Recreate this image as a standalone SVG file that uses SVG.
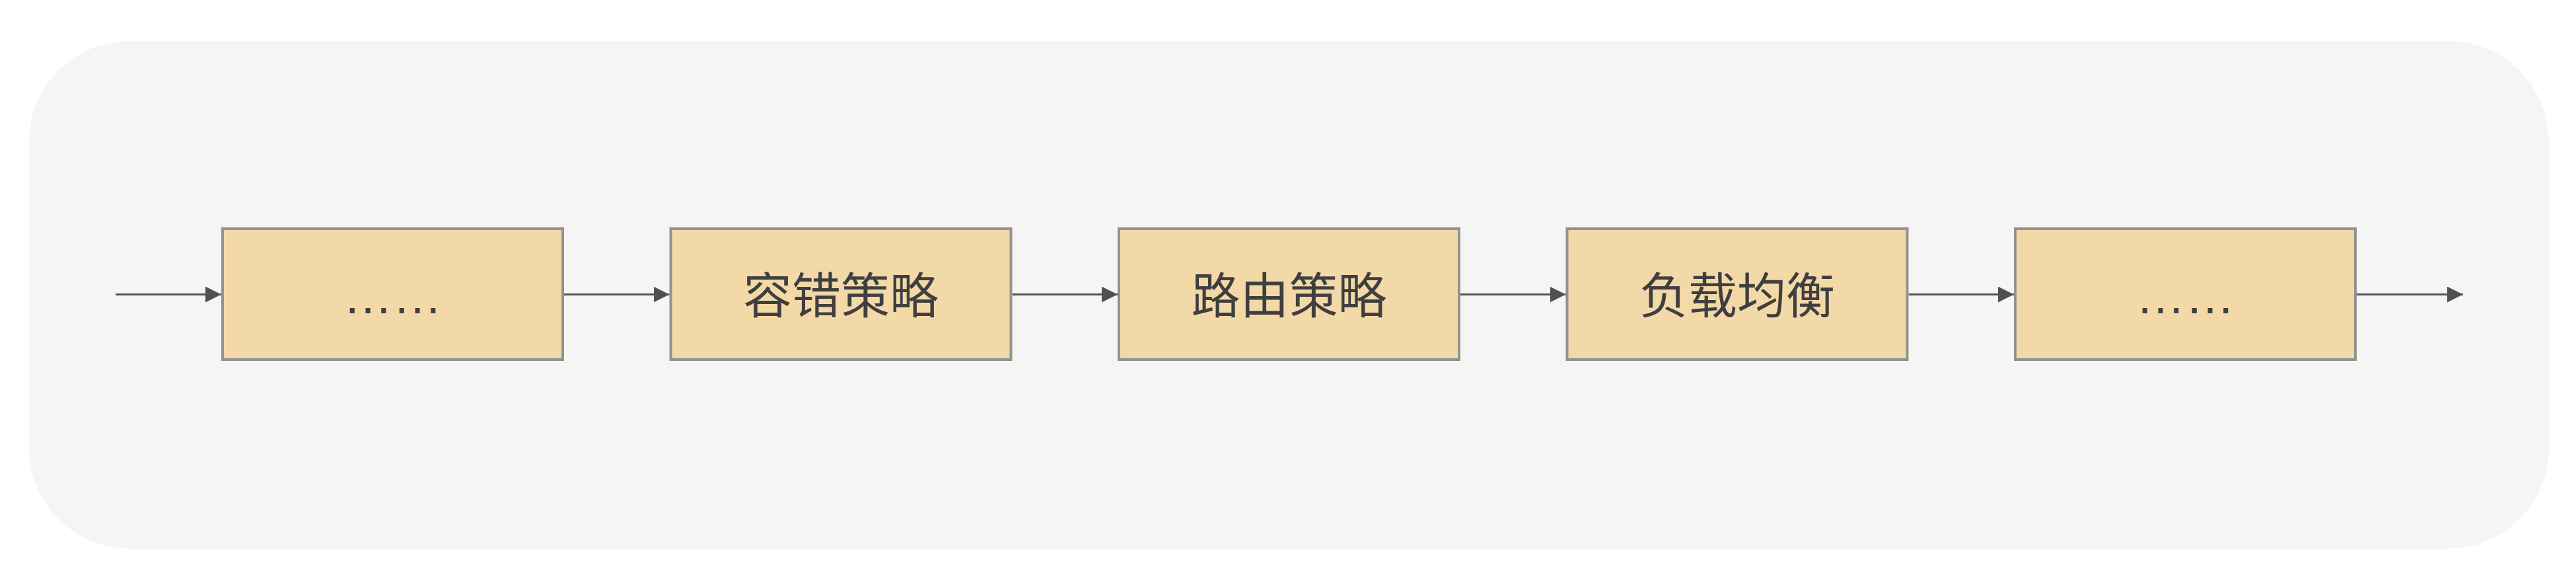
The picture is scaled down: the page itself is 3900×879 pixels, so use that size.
<svg xmlns="http://www.w3.org/2000/svg" width="3900" height="879" viewBox="0 0 3900 879">
  <defs>
    <style>
      .bg { fill: #f5f5f3; }
      .box { fill: #f3d9a8; stroke: #929292; stroke-width: 4; }
      .lbl { font-family: "Noto Sans CJK SC", "Noto Sans", sans-serif; font-size: 74px; fill: #3f3f3f; text-anchor: middle; }
      .dots { font-family: "Liberation Sans", Arial, sans-serif; font-size: 75px; fill: #3f3f3f; text-anchor: middle; }
      .conn { stroke: #505050; stroke-width: 3; fill: none; }
    </style>
    <marker id="arrow" markerUnits="userSpaceOnUse" markerWidth="24" markerHeight="24" refX="24" refY="12" orient="auto" viewBox="0 0 24 24">
      <path d="M0,0 L24,12 L0,24 Z" fill="#505050"/>
    </marker>
  </defs>
  <rect class="bg" x="44" y="62" width="3815" height="768" rx="152" ry="152"/>
  <g id="connectors">
    <line class="conn" x1="175" y1="445.5" x2="335" y2="445.5" marker-end="url(#arrow)"/>
    <line class="conn" x1="854" y1="445.5" x2="1013.5" y2="445.5" marker-end="url(#arrow)"/>
    <line class="conn" x1="1532.5" y1="445.5" x2="1692" y2="445.5" marker-end="url(#arrow)"/>
    <line class="conn" x1="2211" y1="445.5" x2="2370.5" y2="445.5" marker-end="url(#arrow)"/>
    <line class="conn" x1="2889.5" y1="445.5" x2="3049" y2="445.5" marker-end="url(#arrow)"/>
    <line class="conn" x1="3568" y1="445.5" x2="3729" y2="445.5" marker-end="url(#arrow)"/>
  </g>
  <g id="node1">
    <rect class="box" x="337" y="346" width="515" height="198"/>
    <text class="dots" x="594.5" y="474">……</text>
  </g>
  <g id="node2">
    <rect class="box" x="1015.5" y="346" width="515" height="198"/>
    <text class="lbl" x="1273" y="474">容错策略</text>
  </g>
  <g id="node3">
    <rect class="box" x="1694" y="346" width="515" height="198"/>
    <text class="lbl" x="1951.5" y="474">路由策略</text>
  </g>
  <g id="node4">
    <rect class="box" x="2372.5" y="346" width="515" height="198"/>
    <text class="lbl" x="2630" y="474">负载均衡</text>
  </g>
  <g id="node5">
    <rect class="box" x="3051" y="346" width="515" height="198"/>
    <text class="dots" x="3308.5" y="474">……</text>
  </g>
</svg>
